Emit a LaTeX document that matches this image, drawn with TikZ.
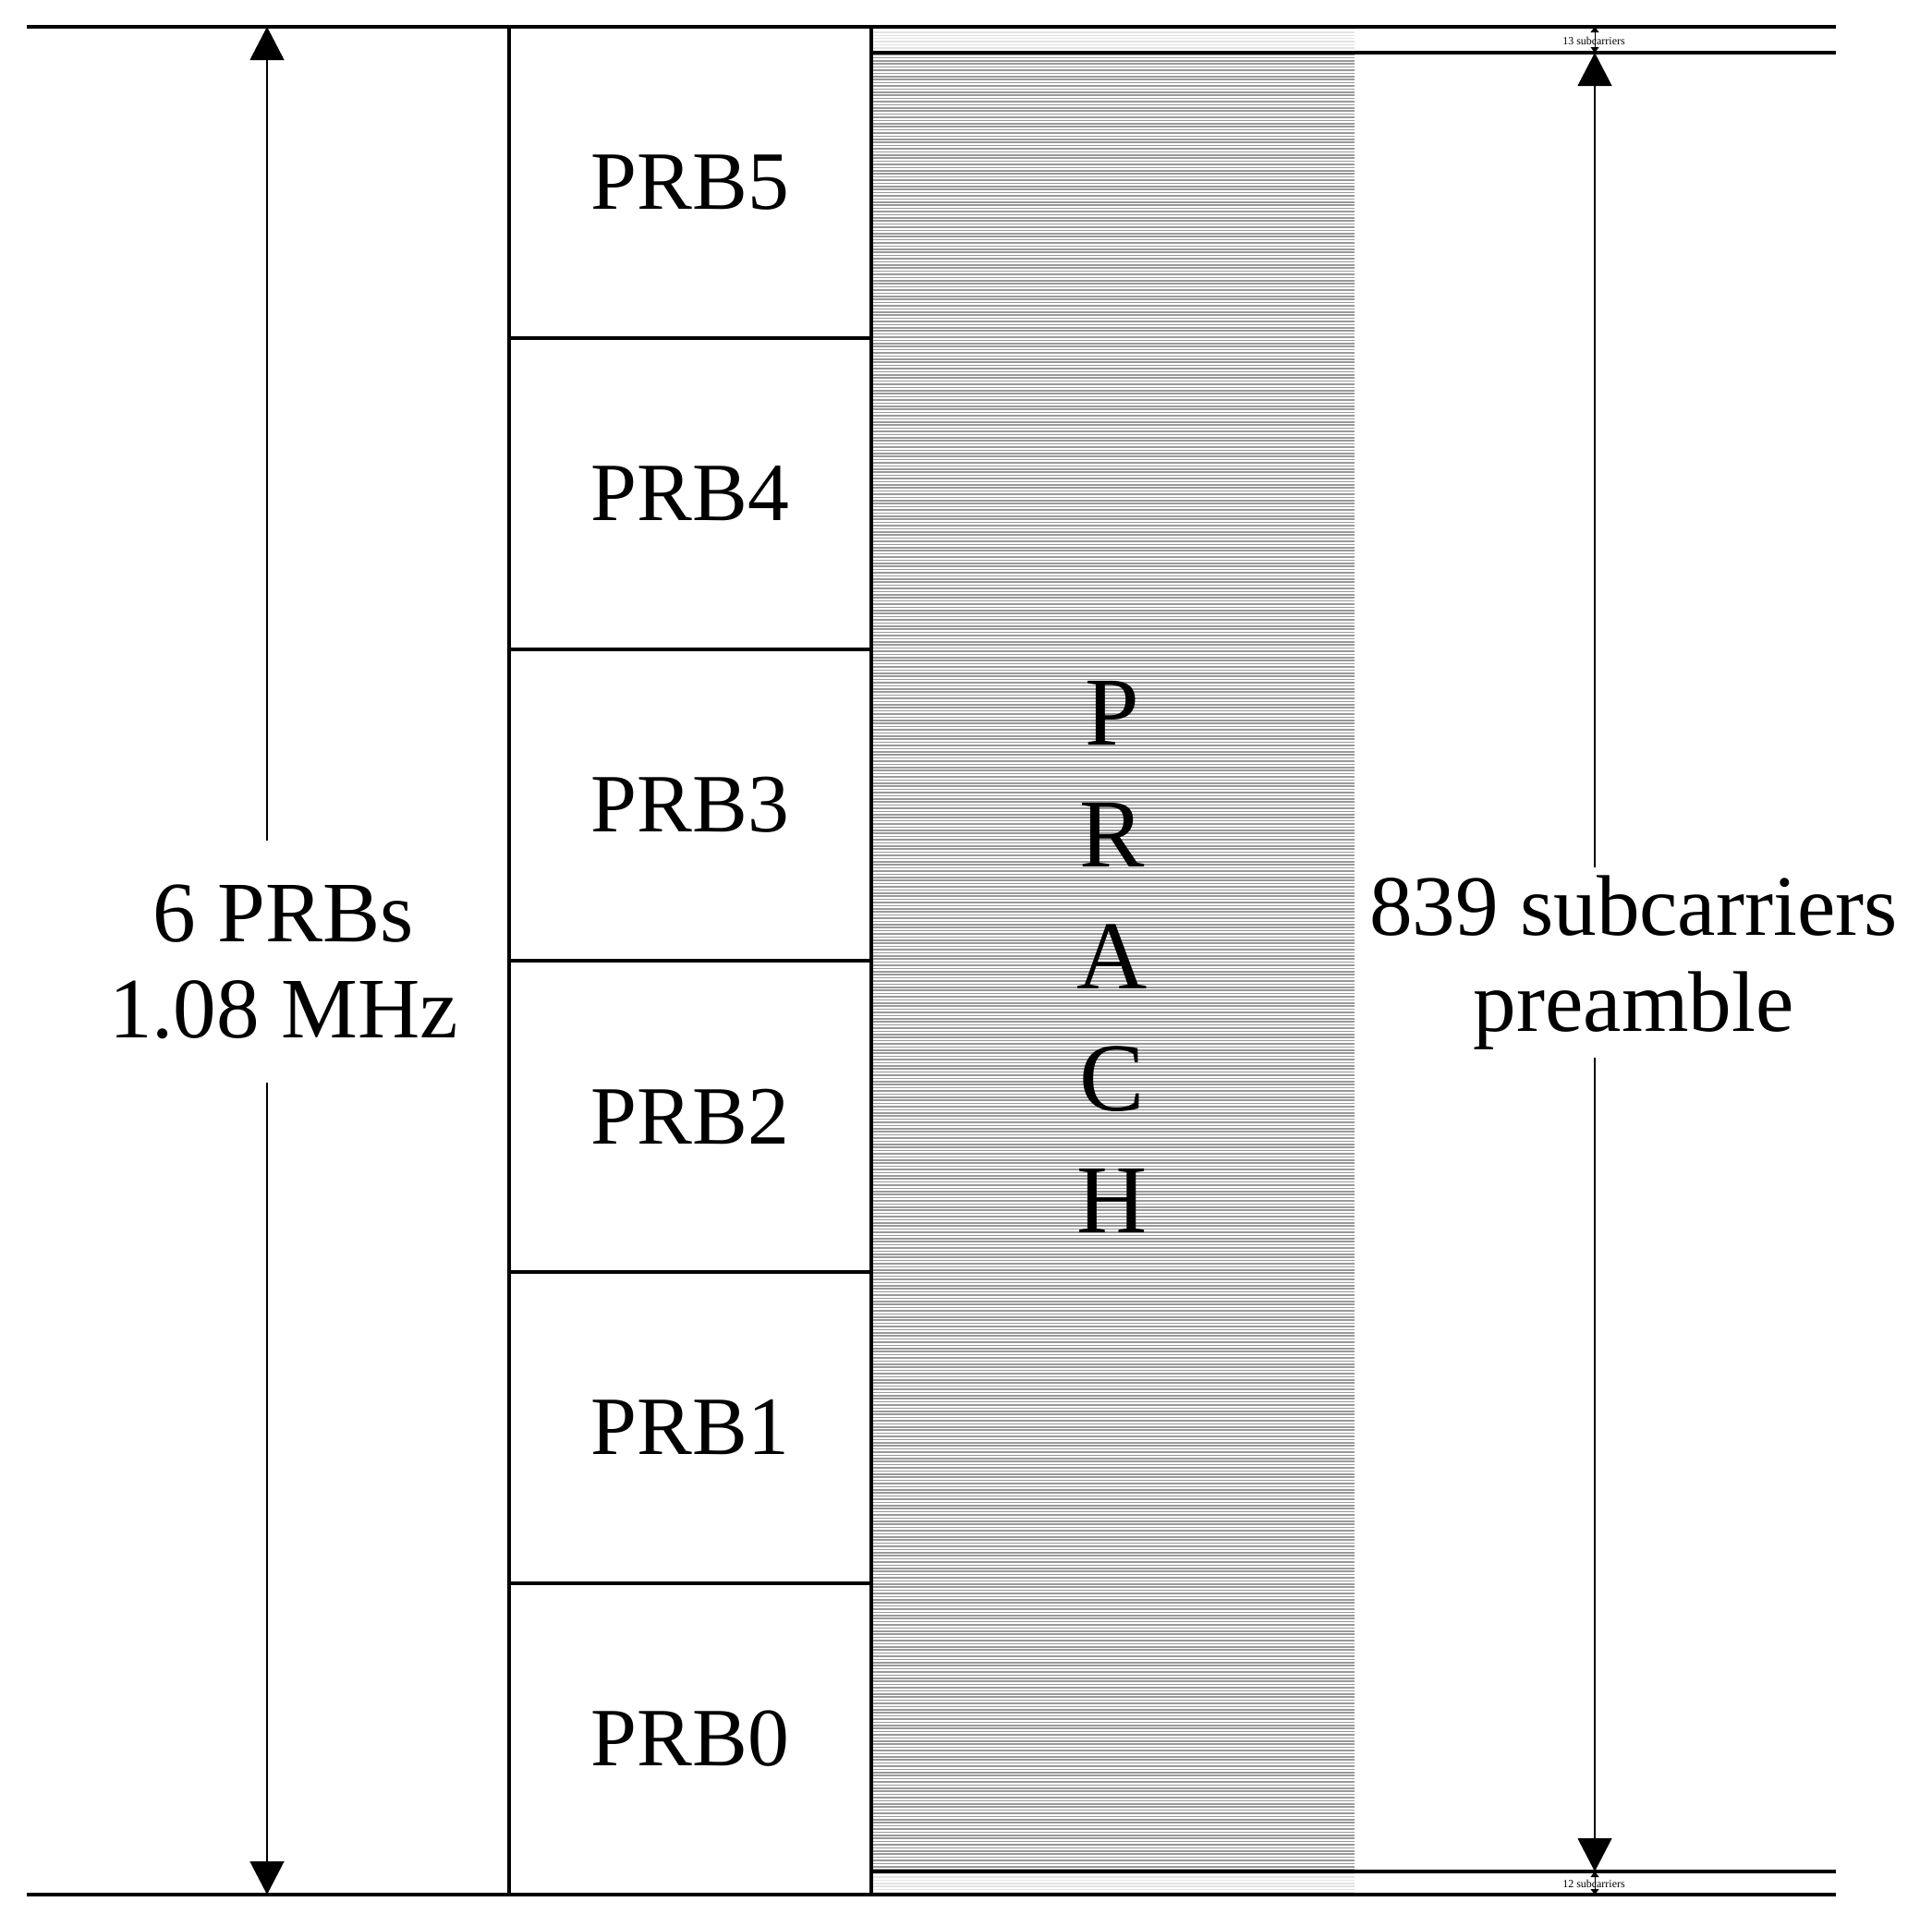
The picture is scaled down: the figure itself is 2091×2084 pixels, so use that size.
\documentclass[tikz,border=0pt]{standalone}
\usepackage{fontspec}
\setmainfont{Liberation Serif}
\usetikzlibrary{arrows.meta}
\tikzset{
  frame/.style={line width=1pt, black},
  prb/.style={draw, line width=1pt, minimum width=3.92cm, minimum height=3.37cm, inner sep=0pt, font=\fontsize{25.5}{31}\selectfont},
  biglabel/.style={align=center, inner sep=0pt, font=\fontsize{26.5}{29.6}\selectfont},
  tinylabel/.style={inner sep=0pt, font=\fontsize{3.4}{4}\selectfont},
  bigarrow/.style={line width=0.3pt, -{Triangle[width=0.37cm,length=0.36cm]}},
  tinyarrow/.style={line width=0.25pt, {Triangle[width=0.09cm,length=0.06cm]}-{Triangle[width=0.09cm,length=0.06cm]}},
  darkstripe/.style={black!40, line width=0.45pt},
  lightstripe/.style={black!11, line width=0.45pt}
}
\begin{document}
\begin{tikzpicture}[x=0.01cm,y=-0.01cm]
\useasboundingbox (0,0) rectangle (2091,2084);
% PRACH striped area
\foreach \y in {59,62.4,...,2025} {\draw[darkstripe] (945,\y) -- (1466,\y);}
\foreach \y in {31.5,34.9,...,56} {\draw[lightstripe] (945,\y) -- (1466,\y);}
\foreach \y in {2028.5,2031.9,...,2050} {\draw[lightstripe] (945,\y) -- (1466,\y);}
% PRB cells
\node[prb] (p5) at (747,197.5) {PRB5};
\node[prb] (p4) at (747,534.5) {PRB4};
\node[prb] (p3) at (747,871.5) {PRB3};
\node[prb] (p2) at (747,1208.5) {PRB2};
\node[prb] (p1) at (747,1545.5) {PRB1};
\node[prb] (p0) at (747,1882.5) {PRB0};
% frame lines
\draw[frame] (29,29) -- (1987,29);
\draw[frame] (29,2051) -- (1987,2051);
\draw[frame] (943,57) -- (1987,57);
\draw[frame] (943,2026) -- (1987,2026);
\draw[frame] (551,29) -- (551,2051);
\draw[frame] (943,29) -- (943,2051);
% PRACH text
\node[align=center, inner sep=0pt, font=\fontsize{30}{37.5}\selectfont] (prach) at (1204,1036) {P\\R\\A\\C\\H};
% left dimension
\coordinate (ltop) at (289,29);
\coordinate (lbot) at (289,2051);
\node[biglabel, minimum height=2.6cm] (bw) at (307,1041) {6 PRBs\\1.08 MHz};
\draw[bigarrow] (bw.north -| ltop) -- (ltop);
\draw[bigarrow] (bw.south -| lbot) -- (lbot);
% right dimension
\coordinate (rtop) at (1726,57);
\coordinate (rbot) at (1726,2026);
\node[biglabel, minimum height=2.04cm] (sc) at (1768,1042) {839 subcarriers\\preamble};
\draw[bigarrow] (sc.north -| rtop) -- (rtop);
\draw[bigarrow] (sc.south -| rbot) -- (rbot);
% small guard-band labels
\coordinate (gt1) at (1726,29);
\coordinate (gt2) at (1726,57);
\coordinate (gb1) at (1726,2026);
\coordinate (gb2) at (1726,2051);
\draw[tinyarrow] (gt1) -- (gt2);
\draw[tinyarrow] (gb1) -- (gb2);
\node[tinylabel] (t13) at (1725,44) {13 subcarriers};
\node[tinylabel] (t12) at (1725,2039) {12 subcarriers};
\end{tikzpicture}
\end{document}
